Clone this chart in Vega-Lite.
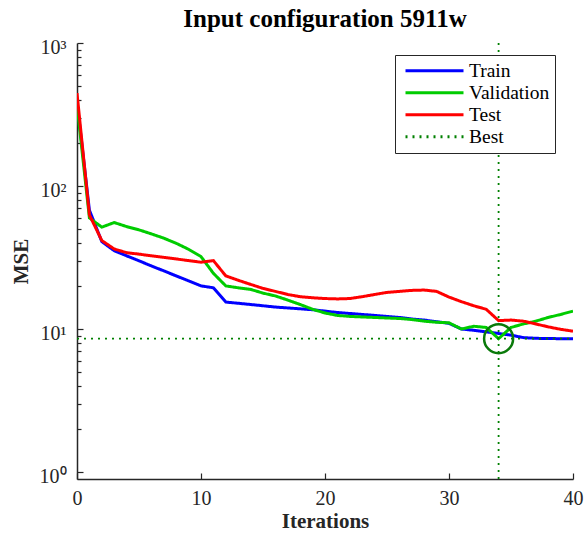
{
  "$schema": "https://vega.github.io/schema/vega-lite/v6.json",
  "width": 496,
  "height": 436,
  "autosize": {"type": "none"},
  "padding": {"left": 77, "top": 43, "right": 11, "bottom": 58},
  "background": "white",
  "config": {
    "font": "Liberation Serif",
    "view": {"stroke": null}
  },
  "title": {
    "text": "Input configuration 5911w",
    "font": "Liberation Serif",
    "fontSize": 25,
    "fontWeight": "bold",
    "color": "black",
    "anchor": "middle",
    "frame": "group",
    "baseline": "alphabetic",
    "offset": -15
  },
  "datasets": {
    "perf": [
      {"it": 0, "mse": 390, "series": "Train"},
      {"it": 1, "mse": 68, "series": "Train"},
      {"it": 2, "mse": 41, "series": "Train"},
      {"it": 3, "mse": 35.4, "series": "Train"},
      {"it": 4, "mse": 32.6, "series": "Train"},
      {"it": 5, "mse": 30.1, "series": "Train"},
      {"it": 6, "mse": 27.7, "series": "Train"},
      {"it": 7, "mse": 25.6, "series": "Train"},
      {"it": 8, "mse": 23.6, "series": "Train"},
      {"it": 9, "mse": 21.8, "series": "Train"},
      {"it": 10, "mse": 20.1, "series": "Train"},
      {"it": 11, "mse": 19.5, "series": "Train"},
      {"it": 12, "mse": 15.5, "series": "Train"},
      {"it": 13, "mse": 15.2, "series": "Train"},
      {"it": 14, "mse": 14.9, "series": "Train"},
      {"it": 15, "mse": 14.6, "series": "Train"},
      {"it": 16, "mse": 14.3, "series": "Train"},
      {"it": 17, "mse": 14.1, "series": "Train"},
      {"it": 18, "mse": 13.9, "series": "Train"},
      {"it": 19, "mse": 13.7, "series": "Train"},
      {"it": 20, "mse": 13.4, "series": "Train"},
      {"it": 21, "mse": 13.1, "series": "Train"},
      {"it": 22, "mse": 12.9, "series": "Train"},
      {"it": 23, "mse": 12.7, "series": "Train"},
      {"it": 24, "mse": 12.5, "series": "Train"},
      {"it": 25, "mse": 12.3, "series": "Train"},
      {"it": 26, "mse": 12.1, "series": "Train"},
      {"it": 27, "mse": 11.8, "series": "Train"},
      {"it": 28, "mse": 11.6, "series": "Train"},
      {"it": 29, "mse": 11.3, "series": "Train"},
      {"it": 30, "mse": 11.0, "series": "Train"},
      {"it": 31, "mse": 10.05, "series": "Train"},
      {"it": 32, "mse": 9.84, "series": "Train"},
      {"it": 33, "mse": 9.6, "series": "Train"},
      {"it": 34, "mse": 9.35, "series": "Train"},
      {"it": 35, "mse": 9.1, "series": "Train"},
      {"it": 36, "mse": 8.75, "series": "Train"},
      {"it": 37, "mse": 8.65, "series": "Train"},
      {"it": 38, "mse": 8.62, "series": "Train"},
      {"it": 39, "mse": 8.6, "series": "Train"},
      {"it": 40, "mse": 8.58, "series": "Train"},
      {"it": 0, "mse": 370, "series": "Validation"},
      {"it": 1, "mse": 60, "series": "Validation"},
      {"it": 2, "mse": 51.7, "series": "Validation"},
      {"it": 3, "mse": 55.7, "series": "Validation"},
      {"it": 4, "mse": 52.2, "series": "Validation"},
      {"it": 5, "mse": 49.5, "series": "Validation"},
      {"it": 6, "mse": 46.4, "series": "Validation"},
      {"it": 7, "mse": 43.3, "series": "Validation"},
      {"it": 8, "mse": 39.9, "series": "Validation"},
      {"it": 9, "mse": 36.2, "series": "Validation"},
      {"it": 10, "mse": 32.2, "series": "Validation"},
      {"it": 11, "mse": 24.6, "series": "Validation"},
      {"it": 12, "mse": 20.1, "series": "Validation"},
      {"it": 13, "mse": 19.5, "series": "Validation"},
      {"it": 14, "mse": 19.0, "series": "Validation"},
      {"it": 15, "mse": 17.9, "series": "Validation"},
      {"it": 16, "mse": 17.1, "series": "Validation"},
      {"it": 17, "mse": 16.0, "series": "Validation"},
      {"it": 18, "mse": 14.9, "series": "Validation"},
      {"it": 19, "mse": 13.8, "series": "Validation"},
      {"it": 20, "mse": 13.0, "series": "Validation"},
      {"it": 21, "mse": 12.5, "series": "Validation"},
      {"it": 22, "mse": 12.3, "series": "Validation"},
      {"it": 23, "mse": 12.2, "series": "Validation"},
      {"it": 24, "mse": 12.1, "series": "Validation"},
      {"it": 25, "mse": 12.0, "series": "Validation"},
      {"it": 26, "mse": 11.9, "series": "Validation"},
      {"it": 27, "mse": 11.7, "series": "Validation"},
      {"it": 28, "mse": 11.4, "series": "Validation"},
      {"it": 29, "mse": 11.2, "series": "Validation"},
      {"it": 30, "mse": 11.1, "series": "Validation"},
      {"it": 31, "mse": 10.05, "series": "Validation"},
      {"it": 32, "mse": 10.5, "series": "Validation"},
      {"it": 33, "mse": 10.3, "series": "Validation"},
      {"it": 34, "mse": 8.6, "series": "Validation"},
      {"it": 35, "mse": 10.3, "series": "Validation"},
      {"it": 36, "mse": 10.9, "series": "Validation"},
      {"it": 37, "mse": 11.4, "series": "Validation"},
      {"it": 38, "mse": 12.1, "series": "Validation"},
      {"it": 39, "mse": 12.7, "series": "Validation"},
      {"it": 40, "mse": 13.4, "series": "Validation"},
      {"it": 0, "mse": 447, "series": "Test"},
      {"it": 1, "mse": 63, "series": "Test"},
      {"it": 2, "mse": 41.7, "series": "Test"},
      {"it": 3, "mse": 36.4, "series": "Test"},
      {"it": 4, "mse": 34.3, "series": "Test"},
      {"it": 5, "mse": 33.5, "series": "Test"},
      {"it": 6, "mse": 32.6, "series": "Test"},
      {"it": 7, "mse": 31.8, "series": "Test"},
      {"it": 8, "mse": 31.0, "series": "Test"},
      {"it": 9, "mse": 30.2, "series": "Test"},
      {"it": 10, "mse": 29.4, "series": "Test"},
      {"it": 11, "mse": 30.2, "series": "Test"},
      {"it": 12, "mse": 23.6, "series": "Test"},
      {"it": 13, "mse": 22.0, "series": "Test"},
      {"it": 14, "mse": 20.6, "series": "Test"},
      {"it": 15, "mse": 19.3, "series": "Test"},
      {"it": 16, "mse": 18.4, "series": "Test"},
      {"it": 17, "mse": 17.5, "series": "Test"},
      {"it": 18, "mse": 16.9, "series": "Test"},
      {"it": 19, "mse": 16.6, "series": "Test"},
      {"it": 20, "mse": 16.4, "series": "Test"},
      {"it": 21, "mse": 16.3, "series": "Test"},
      {"it": 22, "mse": 16.4, "series": "Test"},
      {"it": 23, "mse": 16.9, "series": "Test"},
      {"it": 24, "mse": 17.5, "series": "Test"},
      {"it": 25, "mse": 18.1, "series": "Test"},
      {"it": 26, "mse": 18.4, "series": "Test"},
      {"it": 27, "mse": 18.7, "series": "Test"},
      {"it": 28, "mse": 18.8, "series": "Test"},
      {"it": 29, "mse": 18.4, "series": "Test"},
      {"it": 30, "mse": 16.8, "series": "Test"},
      {"it": 31, "mse": 15.6, "series": "Test"},
      {"it": 32, "mse": 14.6, "series": "Test"},
      {"it": 33, "mse": 13.8, "series": "Test"},
      {"it": 34, "mse": 11.5, "series": "Test"},
      {"it": 35, "mse": 11.6, "series": "Test"},
      {"it": 36, "mse": 11.4, "series": "Test"},
      {"it": 37, "mse": 10.9, "series": "Test"},
      {"it": 38, "mse": 10.4, "series": "Test"},
      {"it": 39, "mse": 10.0, "series": "Test"},
      {"it": 40, "mse": 9.7, "series": "Test"}
    ],
    "best": [
      {"it": 34, "mse": 0.9, "series": "Best", "seg": "v"},
      {"it": 34, "mse": 1000, "series": "Best", "seg": "v"},
      {"it": 0, "mse": 8.6, "series": "Best", "seg": "h"},
      {"it": 40, "mse": 8.6, "series": "Best", "seg": "h"}
    ],
    "bestpt": [
      {"it": 34, "mse": 8.6}
    ]
  },
  "layer": [
    {
      "data": {"name": "perf"},
      "mark": {"type": "line", "strokeWidth": 3, "clip": true},
      "encoding": {
        "x": {
          "field": "it", "type": "quantitative",
          "scale": {"type": "linear", "domain": [0, 40], "nice": false, "zero": false},
          "axis": {
            "title": "Iterations",
            "values": [0, 10, 20, 30, 40],
            "grid": false,
            "tickSize": -6,
            "tickColor": "#262626",
            "tickWidth": 1.2,
            "domainColor": "#262626",
            "domainWidth": 1.5,
            "labelFont": "Liberation Serif",
            "labelFontSize": 20,
            "labelColor": "#262626",
            "labelPadding": 15,
            "labelFlush": false,
            "titleFont": "Liberation Serif",
            "titleFontSize": 21,
            "titleFontWeight": "bold",
            "titleColor": "#262626",
            "titlePadding": 2
          }
        },
        "y": {
          "field": "mse", "type": "quantitative",
          "scale": {"type": "log", "domain": [0.9, 1000], "nice": false},
          "axis": {
            "title": "MSE",
            "values": [1, 2, 3, 4, 5, 6, 7, 8, 9, 10, 20, 30, 40, 50, 60, 70, 80, 90, 100, 200, 300, 400, 500, 600, 700, 800, 900, 1000],
            "labelExpr": "datum.value == 1 ? '10⁰' : datum.value == 10 ? '10¹' : datum.value == 100 ? '10²' : datum.value == 1000 ? '10³' : ''",
            "grid": false,
            "tickSize": {"condition": {"test": "datum.value == 1 || datum.value == 10 || datum.value == 100 || datum.value == 1000", "value": -6}, "value": -4},
            "tickColor": "#262626",
            "tickWidth": 1.2,
            "domainColor": "#262626",
            "domainWidth": 1.5,
            "labelFont": "Liberation Serif",
            "labelFontSize": 20,
            "labelColor": "#262626",
            "labelPadding": 17,
            "labelOffset": 4,
            "labelFlush": false,
            "labelOverlap": false,
            "titleFont": "Liberation Serif",
            "titleFontSize": 21,
            "titleFontWeight": "bold",
            "titleColor": "#262626",
            "titlePadding": 8
          }
        },
        "color": {
          "field": "series", "type": "nominal",
          "scale": {"domain": ["Train", "Validation", "Test", "Best"], "range": ["#0000ff", "#00cc00", "#ff0000", "#008000"]},
          "legend": {
            "title": null, "orient": "none", "legendX": 318, "legendY": 12,
            "symbolType": "stroke", "symbolSize": 3364, "symbolStrokeWidth": 3,
            "clipHeight": 21.7, "rowPadding": 0, "labelFont": "Liberation Serif",
            "labelFontSize": 19.5, "labelColor": "black", "labelOffset": 4,
            "strokeColor": "#262626", "fillColor": "white", "padding": 5, "symbolOffset": 4
          }
        },
        "strokeDash": {
          "field": "series", "type": "nominal",
          "scale": {"domain": ["Train", "Validation", "Test", "Best"], "range": [[1, 0], [1, 0], [1, 0], [2, 5]]},
          "legend": {
            "title": null, "orient": "none", "legendX": 318, "legendY": 12,
            "symbolType": "stroke", "symbolSize": 3364, "symbolStrokeWidth": 3,
            "clipHeight": 21.7, "rowPadding": 0, "labelFont": "Liberation Serif",
            "labelFontSize": 19.5, "labelColor": "black", "labelOffset": 4,
            "strokeColor": "#262626", "fillColor": "white", "padding": 5, "symbolOffset": 4
          }
        }
      }
    },
    {
      "data": {"name": "best"},
      "mark": {"type": "line", "strokeWidth": 1.8},
      "encoding": {
        "x": {"field": "it", "type": "quantitative"},
        "y": {"field": "mse", "type": "quantitative"},
        "detail": {"field": "seg", "type": "nominal"},
        "color": {"field": "series", "type": "nominal"},
        "strokeDash": {"field": "series", "type": "nominal"}
      }
    },
    {
      "data": {"name": "bestpt"},
      "mark": {"type": "point", "shape": "circle", "filled": false, "size": 841, "strokeWidth": 2.5, "color": "#0a7a0a", "opacity": 1},
      "encoding": {
        "x": {"field": "it", "type": "quantitative"},
        "y": {"field": "mse", "type": "quantitative"}
      }
    }
  ]
}
